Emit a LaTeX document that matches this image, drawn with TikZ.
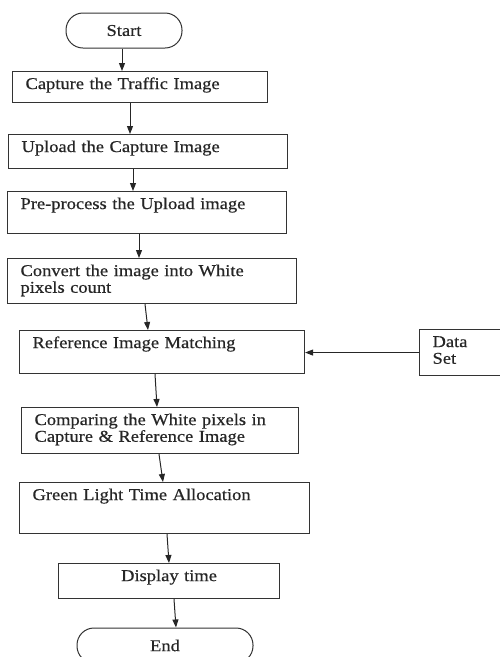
\documentclass[tikz,border=0pt]{standalone}
\usepackage{fontspec}
\setmainfont{Liberation Serif}[FakeStretch=1.12, FakeBold=0.6]
\usetikzlibrary{arrows.meta}

\tikzset{
    procbox/.style={draw=black!80, line width=1.1pt, rectangle, anchor=north west,
        align=left, inner xsep=13pt, inner ysep=0pt, text height=17.5pt},
    termbox/.style={draw=black!80, line width=1pt, rectangle, rounded corners=17pt,
        minimum height=35pt, inner sep=0pt},
    flow/.style={draw=black!85, line width=1pt, -{Triangle[length=8pt,width=6pt]}}
}

\begin{document}
\begin{tikzpicture}[x=1pt, y=-1pt, font=\fontsize{16.5}{16.7}\selectfont, text=black!85]
            \useasboundingbox (0,0) rectangle (500,657);

            % Начало и конец
            \node[termbox, minimum width=116pt] (start) at (124,30.5) {Start};
            \node[termbox, minimum width=176pt] (stop) at (165,645.5) {End};

            % Шаги обработки
            \node[procbox, text width=229pt, text depth=13.5pt] (capture) at (12,71) {Capture the Traffic Image};
            \node[procbox, text width=253pt, text depth=16.5pt] (upload) at (8,134) {Upload the Capture Image};
            \node[procbox, text width=253pt, text depth=24.5pt] (preproc) at (7,191) {Pre-process the Upload image};
            \node[procbox, text width=263pt, text depth=27.5pt] (convert) at (7,258) {Convert the image into White\\pixels count};
            \node[procbox, text width=259pt, text depth=25.5pt] (match) at (19,330) {Reference Image Matching};
            \node[procbox, text width=251pt, text depth=28.5pt] (compare) at (21,407) {Comparing the White pixels in\\Capture \& Reference Image};
            \node[procbox, text width=264pt, text depth=33.5pt] (green) at (19,482) {Green Light Time Allocation};
            \node[procbox, align=center, text width=195pt, text depth=17.5pt] (display) at (58,563) {Display time};

            % Набор данных
            \node[procbox, text width=60pt, text depth=28.5pt] (data) at (419,329) {Data\\Set};

            % Стрелки
            \foreach \a/\b/\xa/\xb in {start/capture/122/122, capture/upload/130/130,
                upload/preproc/133/133, preproc/convert/139/139, convert/match/145/148,
                match/compare/155/157, compare/green/159/163, green/display/167/169,
                display/stop/174/176} {
                \draw[flow] (\a.south -| \xa,0) -- (\b.north -| \xb,0);
            }
            \draw[flow] (data.west) -- (match.east |- data.west);
        \end{tikzpicture}
\end{document}
